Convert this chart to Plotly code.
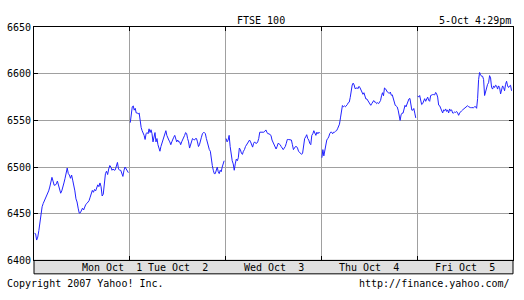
import numpy as np
import plotly.graph_objects as go

# ---------------- data (FTSE 100 intraday, 1-5 Oct 2007) ----------------
day_labels = ["Mon Oct\u00a0\u00a01", "Tue Oct\u00a0\u00a02", "Wed Oct\u00a0\u00a03",
              "Thu Oct\u00a0\u00a04", "Fri Oct\u00a0\u00a05"]

mon = [6429, 6428.6, 6421.8, 6425, 6432, 6442, 6451, 6457.5, 6461, 6463.6, 6466, 6469, 6472,
       6474.5, 6478.6, 6486, 6489, 6485, 6480.6, 6480.6, 6482, 6485, 6481, 6475, 6472, 6474.5,
       6478, 6483, 6488, 6493, 6499, 6493, 6491.5, 6488, 6491.5, 6486, 6481, 6474.5, 6466,
       6462.6, 6456, 6450.7, 6451, 6454, 6456, 6454, 6458, 6460, 6461, 6462.6, 6464, 6467.7,
       6471, 6475, 6473, 6476, 6474.5, 6478, 6481, 6479, 6483, 6479, 6469, 6471, 6481, 6493,
       6495.6, 6492, 6498, 6501.7, 6500, 6496.6, 6498, 6496.6, 6497, 6502, 6505, 6498, 6496.6,
       6496.6, 6491.5, 6490, 6496.6, 6500, 6498, 6495, 6494]

tue = [6547.6, 6556, 6564.6, 6565.6, 6561, 6563, 6558, 6558, 6557, 6558, 6549, 6542.5, 6539,
       6537, 6534, 6529.6, 6535.7, 6537, 6535.7, 6541, 6537, 6540, 6535.7, 6527, 6534, 6537,
       6527, 6530.6, 6524, 6520.4, 6517, 6522, 6525.5, 6527, 6530.6, 6534, 6539, 6534, 6530.6,
       6529, 6527, 6524, 6527, 6530.6, 6532, 6534, 6530.6, 6527, 6529, 6527, 6527, 6524, 6527,
       6529, 6530.6, 6534, 6537, 6536, 6530.6, 6527, 6520.4, 6524, 6527, 6530.6, 6529.6, 6529,
       6530.6, 6530.6, 6527, 6522, 6524, 6527, 6532, 6535.7, 6537, 6537, 6535.7, 6530.6, 6525.5,
       6524, 6518.7, 6517, 6506.8, 6501.7, 6496.6, 6493, 6493, 6496.6, 6500, 6495, 6493, 6496.6,
       6495, 6500, 6503.4, 6506.8]

wed = [6530.6, 6527, 6529, 6534, 6522, 6513.6, 6506.8, 6503.4, 6496.6, 6503.4, 6508.5, 6506.8,
       6510, 6520.4, 6518.7, 6515, 6513.6, 6517, 6518.7, 6522, 6524, 6525.5, 6527, 6529, 6527,
       6524, 6521.4, 6525.5, 6527, 6525.5, 6525.5, 6527, 6530.6, 6537.4, 6537.4, 6536.7, 6536.7,
       6537.4, 6538.4, 6539.8, 6537.4, 6535.7, 6535.7, 6534.7, 6534, 6529, 6527, 6524, 6522,
       6519.4, 6522, 6525.5, 6524.8, 6524, 6522, 6520.4, 6518.7, 6520.4, 6522, 6525.5, 6529.6,
       6529.6, 6529.6, 6529.6, 6529, 6524, 6518.7, 6520.4, 6522, 6522, 6520.4, 6517, 6516, 6515,
       6513.6, 6515, 6525.5, 6530.6, 6532.3, 6534.7, 6530.6, 6529, 6525.5, 6524, 6534, 6535.7,
       6539, 6535.7, 6534, 6537.4, 6535.7, 6537.4, 6536.3]

thu = [6510, 6518.7, 6512, 6517, 6525.5, 6529, 6530.6, 6532.3, 6535.7, 6537.4, 6537.4, 6535.7,
       6537.4, 6537.4, 6538.4, 6539, 6541, 6544.2, 6546, 6552.7, 6561, 6566, 6564.6, 6565.6,
       6564.6, 6565.6, 6567, 6569, 6569.6, 6574.7, 6583, 6588, 6590, 6588, 6584, 6585, 6585,
       6584, 6586.5, 6585, 6583, 6581.4, 6578, 6579.7, 6574.7, 6573, 6573, 6571.3, 6569.6, 6568,
       6566.2, 6568, 6570.3, 6571.3, 6569.6, 6569.6, 6568, 6569, 6568, 6569.6, 6571.3, 6576.4,
       6579.7, 6576.4, 6584.8, 6584, 6581.4, 6580.4, 6579.7, 6579, 6580.4, 6577, 6577.4, 6573,
       6568, 6566.2, 6565.5, 6564.5, 6561, 6556, 6550, 6556, 6557.8, 6557.8, 6561, 6566.2,
       6564.5, 6568, 6571.3, 6573, 6573.6, 6566.2, 6561, 6561, 6562.8, 6557.8, 6552.7]

fri = [6576.4, 6575, 6576.7, 6570.5, 6567, 6568, 6571.6, 6573.3, 6570.5, 6573.3, 6575, 6571.6,
       6570.5, 6576.7, 6577.4, 6577.7, 6577.7, 6577.4, 6580, 6578.4, 6575, 6566.4, 6565.8, 6563,
       6561.3, 6558, 6561.3, 6560.3, 6562.3, 6559.6, 6561.3, 6558, 6562.3, 6560.3, 6561.3, 6558,
       6558, 6559, 6558.6, 6559.6, 6558, 6555.5, 6558, 6559.6, 6560.3, 6561.3, 6562.3, 6563.7,
       6563.7, 6564.7, 6565.8, 6564.7, 6563.7, 6563.7, 6563.7, 6563.7, 6563.7, 6564.7, 6564.7,
       6563, 6573.3, 6593.8, 6601.4, 6599, 6597.3, 6597.3, 6593.8, 6576.7, 6581.8, 6587, 6588.7,
       6590.4, 6598, 6595.5, 6585.3, 6583.6, 6587, 6585.3, 6587.7, 6587, 6583.6, 6587, 6585.3,
       6578.4, 6585.3, 6587, 6585.3, 6581.8, 6588.7, 6592, 6587, 6585.3, 6587, 6587.7, 6581.8]

y_ticks = [6400, 6450, 6500, 6550, 6600, 6650]
title_text = "FTSE 100"
stamp_text = "5-Oct 4:29pm"
copyright_text = "Copyright 2007 Yahoo! Inc."
url_text = "http://finance.yahoo.com/"

# ---------------- layout geometry (pixels) ----------------
W, H = 524, 300
L, R, T, B = 34, 513, 22, 265
BAND_B = 279
FONT = "DejaVu Sans Mono"

def px(x):
    return x / W

def py(y):
    return 1 - y / H

# each trading day occupies one unit on the x axis
xs, ys = [], []
for i, vals in enumerate([mon, tue, wed, thu, fri]):
    t = np.linspace(0.005, 0.985, len(vals))
    xs += list(i + t)
    ys += list(vals)
    xs.append(None)
    ys.append(None)

fig = go.Figure(go.Scatter(x=xs, y=ys, mode="lines",
                           line=dict(color="#2222ff", width=1),
                           connectgaps=False, hoverinfo="skip"))

fig.update_layout(
    width=W, height=H,
    margin=dict(l=0, r=0, t=0, b=0),
    paper_bgcolor="white", plot_bgcolor="white",
    showlegend=False,
    font=dict(family=FONT, size=10, color="black"),
    xaxis=dict(domain=[px(L), px(R)], range=[0, 5], tickvals=[1, 2, 3, 4],
               showticklabels=False, ticks="inside", ticklen=4, tickcolor="black",
               showgrid=True, gridcolor="#a0a0a0", gridwidth=1,
               showline=True, linecolor="black", linewidth=1, mirror="ticks",
               zeroline=False, fixedrange=True),
    yaxis=dict(domain=[py(B), py(T)], range=[6400, 6650], tickvals=y_ticks,
               ticks="inside", ticklen=4, tickcolor="black",
               tickfont=dict(family=FONT, size=10, color="black"),
               showgrid=True, gridcolor="#a0a0a0", gridwidth=1,
               showline=True, linecolor="black", linewidth=1, mirror="ticks",
               zeroline=False, fixedrange=True),
)

# grey date band under the plot
fig.add_shape(type="rect", xref="paper", yref="paper",
              x0=px(L), x1=px(R), y0=py(BAND_B), y1=py(B),
              fillcolor="#e0e0e0", line=dict(color="black", width=1), layer="below")

ann = []
label_x = [0.8125, 1.5, 2.5, 3.5, 4.5]
for lx, lab in zip(label_x, day_labels):
    ann.append(dict(x=lx, xref="x", y=py(272), yref="paper", text=lab, showarrow=False,
                    xanchor="center", yanchor="middle", font=dict(family=FONT, size=10)))
ann.append(dict(x=px(260.5), y=py(15), xref="paper", yref="paper", text=title_text,
                showarrow=False, xanchor="center", yanchor="middle", font=dict(family=FONT, size=10)))
ann.append(dict(x=px(513), y=py(15), xref="paper", yref="paper", text=stamp_text,
                showarrow=False, xanchor="right", yanchor="middle", font=dict(family=FONT, size=10)))
ann.append(dict(x=px(5), y=py(289), xref="paper", yref="paper", text=copyright_text,
                showarrow=False, xanchor="left", yanchor="middle", font=dict(family=FONT, size=10)))
ann.append(dict(x=px(512), y=py(289), xref="paper", yref="paper", text=url_text,
                showarrow=False, xanchor="right", yanchor="middle", font=dict(family=FONT, size=10)))
fig.update_layout(annotations=ann)

fig.write_html("out.html")
